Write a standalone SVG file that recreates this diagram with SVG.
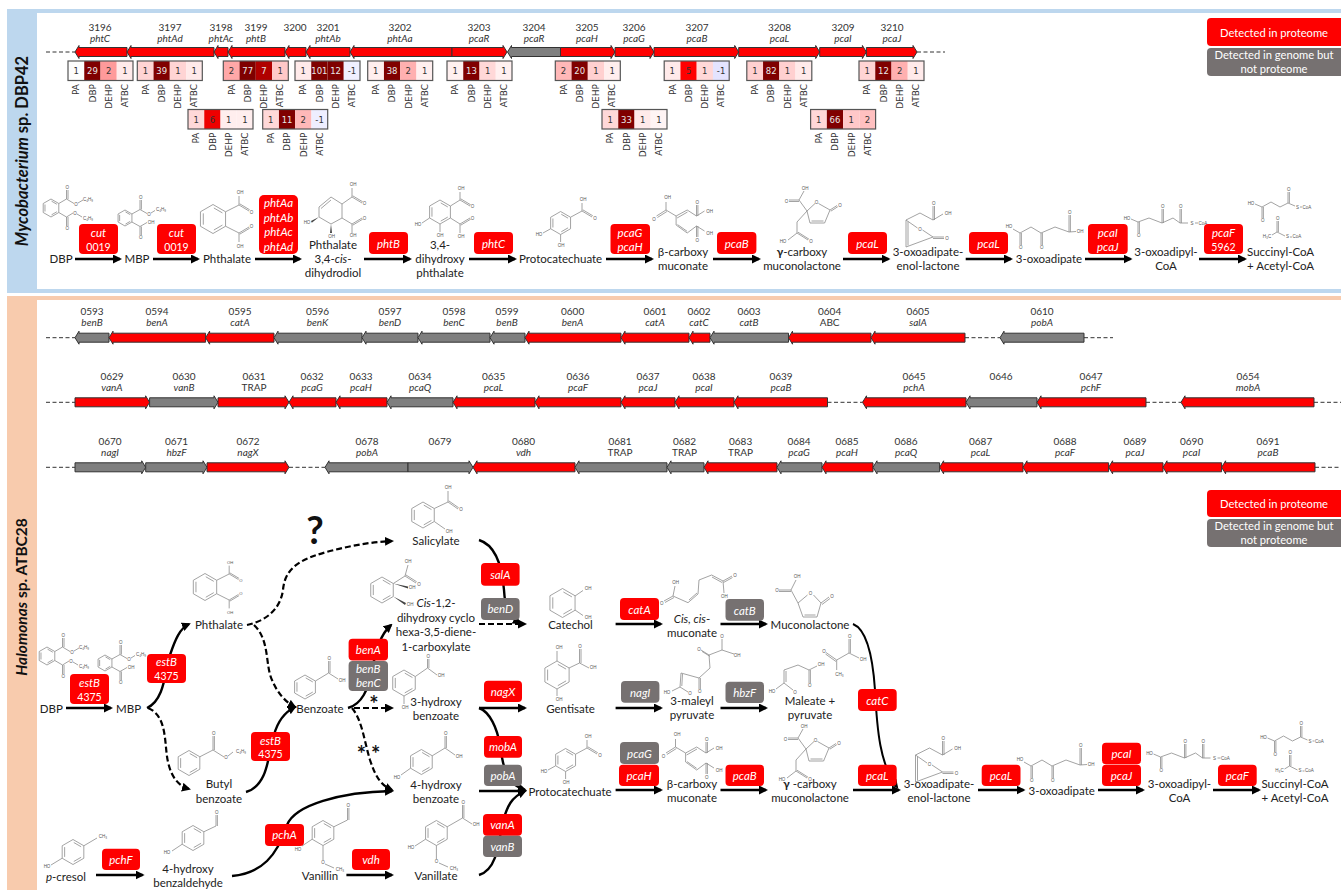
<svg xmlns="http://www.w3.org/2000/svg" width="1341" height="890" viewBox="0 0 1341 890">
<style>
text{font-family:"Lato","Open Sans","Liberation Sans",sans-serif}
.r{fill:#fe0000;stroke:#333;stroke-width:1}
.g{fill:#7f7f7f;stroke:#333;stroke-width:1}
.n{font-size:10px;fill:#333;text-anchor:middle}
.i{font-size:10px;fill:#333;text-anchor:middle;font-style:italic}
.dash{fill:none;stroke:#333;stroke-width:1;stroke-dasharray:4 2.5}
.f{fill:none;stroke:#555;stroke-width:1.2}
.c{font-family:"DejaVu Sans",sans-serif;font-size:8.5px;fill:#333;text-anchor:middle}
.w{fill:#e8e8e8}
.hl{font-family:"DejaVu Sans",sans-serif;font-size:9px;fill:#333;text-anchor:end}
.a{fill:none;stroke:#000;stroke-width:2.4;marker-end:url(#h)}
.d{fill:none;stroke:#000;stroke-width:2.2;stroke-dasharray:6 3;marker-end:url(#h)}
.e{fill:#fe0000}
.eg{fill:#767171}
.et{font-size:11.5px;fill:#fff;text-anchor:middle;font-style:italic}
.lt{font-size:11.2px;fill:#fff;text-anchor:middle}
.nu{font-size:10.5px;fill:#fff;text-anchor:middle}
.m{font-size:11.5px;fill:#222;text-anchor:middle}
.b{fill:none;stroke:#8c8c8c;stroke-width:.8;vector-effect:non-scaling-stroke}
.t{font-family:"Liberation Sans",sans-serif;font-size:4.5px;fill:#555;text-anchor:middle}
.s{font-size:16.5px;fill:#111;text-anchor:middle;font-weight:700}
</style>
<defs>
<marker id="h" viewBox="0 0 9 9" markerWidth="9" markerHeight="9" markerUnits="userSpaceOnUse" refX="7" refY="4.5" orient="auto"><path d="M0 0L9 4.5L0 9z" fill="#000"/></marker>
<g id="ring"><path class="b" d="M0-10L8.66-5V5L0 10L-8.66 5V-5ZM-6.7-3.9V3.9M.6-7.6L6.5-4.2M6.5 4.2L.6 7.6"/></g>
<g id="dbp"><use href="#ring" transform="translate(51,208) scale(.9)"/><path class="b" d="M58.8 203.5L66.5 199V190M68 199V190M66.5 199L74 203.5M78 203L83 200M58.8 212.5L66.5 217V226M68 217V226M66.5 217L73 213M77 214L82 217"/><text class="t" x="67.2" y="189">O</text><text class="t" x="76" y="206">O</text><text class="t" x="88" y="200.5">C₄H₉</text><text class="t" x="67.2" y="230">O</text><text class="t" x="75" y="214.5">O</text><text class="t" x="88" y="219.5">C₄H₉</text></g>
<g id="mbp"><use href="#ring" transform="translate(125,218) scale(.8)"/><path class="b" d="M131.9 214L140 209.5V200M141.4 209.5V200M140 209.5L147 213.5M151 213L155 210.5M131.9 222L140 226.5V235M141.4 226.5V235M140 226.5L147 222.5"/><text class="t" x="140.7" y="199">O</text><text class="t" x="149" y="215.5">O</text><text class="t" x="161" y="210.5">C₄H₉</text><text class="t" x="140.7" y="239">O</text><text class="t" x="151" y="223.5">OH</text></g>
<g id="phth"><use href="#ring" transform="scale(1.45)"/><path class="b" d="M12.6-7.25L26-14L36-8M26.7-15.2L36.7-9.2M26-14V-23M12.6 7.25L26 14L36 8M26.7 15.2L36.7 9.2M26 14V23"/><text class="t" x="38.5" y="-5.5">O</text><text class="t" x="27" y="-25">OH</text><text class="t" x="38.5" y="8.5">O</text><text class="t" x="27" y="29">OH</text></g>
<g id="pcat"><use href="#ring" transform="translate(560.6,223) scale(1.15)"/><path class="b" d="M570.6 217.2L582 211L592 217M582.8 209.8L592.8 215.8M582 211V203M550.6 228.8L543 233M560.6 234.5V242"/><text class="t" x="583" y="201">OH</text><text class="t" x="595" y="220">O</text><text class="t" x="539" y="236">HO</text><text class="t" x="561" y="247">OH</text></g>
<g id="bcm"><path class="b" d="M675.5 747V739M675.5 747L666 753M676.4 748.5L666.9 754.5M675.5 747L685.6 753L696.7 747L706 753L714 748M686.6 755L697 749M706 753V742M707.4 753V742M685.6 753V762L696.7 770L706 763L714 768M687 761.6L696.6 768.3M706 763V774M707.4 763V774"/><text class="t" x="677" y="736">OH</text><text class="t" x="663.6" y="757.5">O</text><text class="t" x="719" y="749.5">OH</text><text class="t" x="706.7" y="741">O</text><text class="t" x="719" y="771.5">OH</text><text class="t" x="706.7" y="779">O</text></g>
<g id="gcm"><path class="b" d="M807 211L815 203.5M818.5 203.5L830 210L824.6 223H810L807 211M823.5 221H811.5M830 210L837 205.5M830.8 211.2L837.8 206.7M807 211L799 200H789M799 201.5H789M799 200L804 191M807 211L797 222V233L808 240M798 232.2L809 239.2M797 233L788 240"/><text class="t" x="816.5" y="203.5">O</text><text class="t" x="840" y="206.5">O</text><text class="t" x="786.5" y="202.5">O</text><text class="t" x="805" y="189.5">OH</text><text class="t" x="811" y="243">O</text><text class="t" x="783" y="243">HO</text></g>
<g id="enol"><path class="b" d="M906 220L920 213L933 220M906 220V247M908 221.5V245.5M906 247L933 237M906 220L917.5 228M922.5 230L933 237M933 220V206M934.5 220V206M933 220L943 214M933 237H944M933 238.5H944"/><text class="t" x="920" y="231">O</text><text class="t" x="933.7" y="205">O</text><text class="t" x="948" y="215">OH</text><text class="t" x="947" y="239.5">O</text></g>
<g id="oxo"><path class="b" d="M1013 229L1020 233L1031 227L1041 233L1055 227L1069 232L1076 231.5M1020 233V245M1021.4 233V245M1041 233V245M1042.4 233V245M1069 232V215M1070.4 232V215"/><text class="t" x="1009" y="228">HO</text><text class="t" x="1020.7" y="249">O</text><text class="t" x="1041.7" y="249">O</text><text class="t" x="1069.7" y="214">O</text><text class="t" x="1080" y="233">OH</text></g>
<g id="oxocoa"><path class="b" d="M1131 219L1138 222L1149 218L1162 223L1173 218L1180 223L1188 223M1138 222V233M1139.4 222V233M1162 223V209M1163.4 223V209M1180 223V209M1181.4 223V209M1195 223H1198"/><text class="t" x="1127" y="220">HO</text><text class="t" x="1138.7" y="237">O</text><text class="t" x="1162.7" y="208">O</text><text class="t" x="1180.7" y="208">O</text><text class="t" x="1192" y="224.5">S</text><text class="t" x="1203" y="224.5">CoA</text></g>
<g id="succ"><path class="b" d="M1255 204L1262 207L1271 202L1280 207L1288 203L1295 206M1262 207V218M1263.4 207V218M1288 203V192M1289.4 203V192M1300 207H1302M1272 235L1277 232L1285 236M1277 232V221M1278.4 232V221M1290 237H1292"/><text class="t" x="1251" y="204.5">HO</text><text class="t" x="1262.7" y="222">O</text><text class="t" x="1288.7" y="191">O</text><text class="t" x="1297.5" y="208.5">S</text><text class="t" x="1307" y="208.5">CoA</text><text class="t" x="1267" y="237.5">H₃C</text><text class="t" x="1277.7" y="220">O</text><text class="t" x="1287.5" y="237.5">S</text><text class="t" x="1297" y="237.5">CoA</text></g>
</defs>

<g id="panels">
<rect x="7" y="9" width="1334" height="284" fill="#bdd7ee"/>
<rect x="37" y="13" width="1304" height="276" fill="#fff"/>
<rect x="7" y="296" width="1334" height="594" fill="#f8cbad"/>
<rect x="37" y="300" width="1304" height="590" fill="#fff"/>
<text class="s" transform="translate(28,151) rotate(-90)"><tspan font-style="italic">Mycobacterium</tspan> sp. DBP42</text>
<text class="s" style="font-size:15.5px" transform="translate(27,597) rotate(-90)"><tspan font-style="italic">Halomonas</tspan> sp. ATBC28</text>
</g>

<g id="connectors">
<path class="dash" d="M46 52H75M917 52H945M46 337.7H75M965 337.7H1000M1084 337.7H1113M46 402.3H75M827.5 402.3H862.5M1146 402.3H1181M1314 402.3H1341M46 467.3H75M289 467.3H325M1315 467.3H1341"/>
<path class="a" d="M75 259H120"/><path class="a" d="M153 259H198"/><path class="a" d="M255 259H300"/><path class="a" d="M364 259H410"/><path class="a" d="M469 259H515"/><path class="a" d="M606 259H652"/><path class="a" d="M713 259H759"/><path class="a" d="M843 259H888.5"/><path class="a" d="M965.7 259H1011"/><path class="a" d="M1085 259H1130.5"/><path class="a" d="M1199 259H1245"/>
<path class="a" d="M66 708H111"/>
<path class="a" d="M147 708C165 700 165 670 170 655C175 640 180 628 189 624"/>
<path class="d" d="M148 708C168 716 164 745 168 762C171 776 178 786 189 789"/>
<path class="a" d="M246 792C270 785 268 750 274 735C278 720 285 712 295 707"/>
<path class="d" d="M254 625C270 640 265 665 272 680C277 692 285 702 295 707"/>
<path class="d" d="M247 625C262 622 280 612 283 590C285 565 305 558 330 551C350 546 370 542 392 541"/>
<path class="a" d="M348 708C362 704 368 690 372 670C376 650 380 635 391 625"/>
<path class="d" d="M354 708H392"/>
<path class="d" d="M352 708C362 720 364 740 370 760C375 775 380 785 392 790"/>
<path class="a" d="M232 876C262 873 277 856 287 825C295 805 340 792 392 791"/>
<path class="a" d="M96 875H142.6"/><path class="a" d="M346.4 875H392"/>
<path class="a" d="M479 540C495 545 502 565 504 590C505 605 506 615 520 623"/>
<path class="d" d="M479 624H525"/>
<path class="a" d="M479 708H525"/>
<path class="a" d="M479 708C490 712 497 728 500 745C503 770 508 785 525 790"/>
<path class="a" d="M479 791H525"/>
<path class="a" d="M479 875C495 870 498 850 502 825C507 805 512 797 525 791"/>
<path class="a" d="M615.6 624H661"/><path class="a" d="M720.5 624H766"/><path class="a" d="M615.6 708H661"/><path class="a" d="M720.5 708H766"/><path class="a" d="M615.6 790H661"/><path class="a" d="M720.5 790H766"/><path class="a" d="M853 790H899"/><path class="a" d="M978 790H1023.5"/><path class="a" d="M1098 790H1143"/><path class="a" d="M1213 790H1259"/>
<path class="a" style="stroke-width:2" d="M853 624C868 630 873 660 875 690C877 730 880 765 897 787"/>
</g>

<g id="genes-mycobacterium">
<g id="g3196"><path class="r" d="M75 52l4-6.5v2h48v9h-48v2z"/><text class="n" x="100" y="30.5">3196</text><text class="i" x="100" y="41.5">phtC</text></g>
<g id="g3197"><path class="r" d="M127 52l4-6.5v2h83v9h-83v2z"/><text class="n" x="170" y="30.5">3197</text><text class="i" x="170" y="41.5">phtAd</text></g>
<g id="g3198"><path class="r" d="M214 52l4-6.5v2h10v9h-10v2z"/><text class="n" x="221" y="30.5">3198</text><text class="i" x="221" y="41.5">phtAc</text></g>
<g id="g3199"><path class="r" d="M228 52l4-6.5v2h53v9h-53v2z"/><text class="n" x="256" y="30.5">3199</text><text class="i" x="256" y="41.5">phtB</text></g>
<g id="g3200"><path class="r" d="M285 52l4-6.5v2h17v9h-17v2z"/><text class="n" x="295" y="31">3200</text></g>
<g id="g3201"><path class="r" d="M306 52l4-6.5v2h40v9h-40v2z"/><text class="n" x="328" y="30.5">3201</text><text class="i" x="328" y="41.5">phtAb</text></g>
<g id="g3202"><path class="r" d="M350 52l4-6.5v2h98v9h-98v2z"/><text class="n" x="400" y="30.5">3202</text><text class="i" x="400" y="41.5">phtAa</text></g>
<g id="g3203"><path class="r" d="M507 52l-4-6.5v2h-51v9h51v2z"/><text class="n" x="479" y="30.5">3203</text><text class="i" x="479" y="41.5">pcaR</text></g>
<g id="g3204"><path class="g" d="M507.5 52l4-6.5v2h49v9h-49v2z"/><text class="n" x="534" y="30.5">3204</text><text class="i" x="534" y="41.5">pcaR</text></g>
<g id="g3205"><path class="r" d="M615 52l-4-6.5v2h-50.5v9h50.5v2z"/><text class="n" x="587" y="30.5">3205</text><text class="i" x="587" y="41.5">pcaH</text></g>
<g id="g3206"><path class="r" d="M654 52l-4-6.5v2h-35v9h35v2z"/><text class="n" x="634" y="30.5">3206</text><text class="i" x="634" y="41.5">pcaG</text></g>
<g id="g3207"><path class="r" d="M738.7 52l-4-6.5v2h-80.7v9h80.7v2z"/><text class="n" x="697" y="30.5">3207</text><text class="i" x="697" y="41.5">pcaB</text></g>
<g id="g3208"><path class="r" d="M819.7 52l-4-6.5v2h-77v9h77v2z"/><text class="n" x="779.5" y="30.5">3208</text><text class="i" x="779.5" y="41.5">pcaL</text></g>
<g id="g3209"><path class="r" d="M866.4 52l-4-6.5v2h-42.7v9h42.7v2z"/><text class="n" x="843" y="30.5">3209</text><text class="i" x="843" y="41.5">pcaI</text></g>
<g id="g3210"><path class="r" d="M917 52l-4-6.5v2h-46.6v9h46.6v2z"/><text class="n" x="892" y="30.5">3210</text><text class="i" x="892" y="41.5">pcaJ</text></g>
</g>

<g id="heatmaps">
<g id="h3196" transform="translate(68,61)"><rect width="16.25" height="19.5" fill="#fdfdfd"/><rect x="16.25" width="16.25" height="19.5" fill="#800000"/><rect x="32.5" width="16.25" height="19.5" fill="#ff9a9a"/><rect x="48.75" width="16.25" height="19.5" fill="#ffeaea"/><rect class="f" width="65" height="19.5"/><text class="c" x="8.1" y="13">1</text><text class="c w" x="24.4" y="13">29</text><text class="c" x="40.6" y="13">2</text><text class="c" x="56.9" y="13">1</text><text class="hl" transform="translate(11.4,23) rotate(-90)">PA</text><text class="hl" transform="translate(27.6,23) rotate(-90)">DBP</text><text class="hl" transform="translate(43.9,23) rotate(-90)">DEHP</text><text class="hl" transform="translate(60.1,23) rotate(-90)">ATBC</text></g>
<g id="h3197" transform="translate(137.3,61)"><rect width="16.25" height="19.5" fill="#ffd4d4"/><rect x="16.25" width="16.25" height="19.5" fill="#800000"/><rect x="32.5" width="16.25" height="19.5" fill="#ffd4d4"/><rect x="48.75" width="16.25" height="19.5" fill="#ffeaea"/><rect class="f" width="65" height="19.5"/><text class="c" x="8.1" y="13">1</text><text class="c w" x="24.4" y="13">39</text><text class="c" x="40.6" y="13">1</text><text class="c" x="56.9" y="13">1</text><text class="hl" transform="translate(11.4,23) rotate(-90)">PA</text><text class="hl" transform="translate(27.6,23) rotate(-90)">DBP</text><text class="hl" transform="translate(43.9,23) rotate(-90)">DEHP</text><text class="hl" transform="translate(60.1,23) rotate(-90)">ATBC</text></g>
<g id="h3199" transform="translate(223.3,61)"><rect width="16.25" height="19.5" fill="#ffa8a8"/><rect x="16.25" width="16.25" height="19.5" fill="#7f0000"/><rect x="32.5" width="16.25" height="19.5" fill="#b00000"/><rect x="48.75" width="16.25" height="19.5" fill="#ffc8c8"/><rect class="f" width="65" height="19.5"/><text class="c" x="8.1" y="13">2</text><text class="c w" x="24.4" y="13">77</text><text class="c w" x="40.6" y="13">7</text><text class="c" x="56.9" y="13">1</text><text class="hl" transform="translate(11.4,23) rotate(-90)">PA</text><text class="hl" transform="translate(27.6,23) rotate(-90)">DBP</text><text class="hl" transform="translate(43.9,23) rotate(-90)">DEHP</text><text class="hl" transform="translate(60.1,23) rotate(-90)">ATBC</text></g>
<g id="h3201" transform="translate(295,61)"><rect width="16.25" height="19.5" fill="#ffeaea"/><rect x="16.25" width="16.25" height="19.5" fill="#7f0000"/><rect x="32.5" width="16.25" height="19.5" fill="#7f0000"/><rect x="48.75" width="16.25" height="19.5" fill="#f0f0ff"/><rect class="f" width="65" height="19.5"/><text class="c" x="8.1" y="13">1</text><text class="c w" x="24.4" y="13">101</text><text class="c w" x="40.6" y="13">12</text><text class="c" x="56.9" y="13">-1</text><text class="hl" transform="translate(11.4,23) rotate(-90)">PA</text><text class="hl" transform="translate(27.6,23) rotate(-90)">DBP</text><text class="hl" transform="translate(43.9,23) rotate(-90)">DEHP</text><text class="hl" transform="translate(60.1,23) rotate(-90)">ATBC</text></g>
<g id="h3202" transform="translate(367.7,61)"><rect width="16.25" height="19.5" fill="#ffeeee"/><rect x="16.25" width="16.25" height="19.5" fill="#800000"/><rect x="32.5" width="16.25" height="19.5" fill="#ffb0b0"/><rect x="48.75" width="16.25" height="19.5" fill="#ffefef"/><rect class="f" width="65" height="19.5"/><text class="c" x="8.1" y="13">1</text><text class="c w" x="24.4" y="13">38</text><text class="c" x="40.6" y="13">2</text><text class="c" x="56.9" y="13">1</text><text class="hl" transform="translate(11.4,23) rotate(-90)">PA</text><text class="hl" transform="translate(27.6,23) rotate(-90)">DBP</text><text class="hl" transform="translate(43.9,23) rotate(-90)">DEHP</text><text class="hl" transform="translate(60.1,23) rotate(-90)">ATBC</text></g>
<g id="h3203" transform="translate(447,61)"><rect width="16.25" height="19.5" fill="#fff0f0"/><rect x="16.25" width="16.25" height="19.5" fill="#800000"/><rect x="32.5" width="16.25" height="19.5" fill="#ffd8d8"/><rect x="48.75" width="16.25" height="19.5" fill="#fff0f0"/><rect class="f" width="65" height="19.5"/><text class="c" x="8.1" y="13">1</text><text class="c w" x="24.4" y="13">13</text><text class="c" x="40.6" y="13">1</text><text class="c" x="56.9" y="13">1</text><text class="hl" transform="translate(11.4,23) rotate(-90)">PA</text><text class="hl" transform="translate(27.6,23) rotate(-90)">DBP</text><text class="hl" transform="translate(43.9,23) rotate(-90)">DEHP</text><text class="hl" transform="translate(60.1,23) rotate(-90)">ATBC</text></g>
<g id="h3205" transform="translate(555.3,61)"><rect width="16.25" height="19.5" fill="#ffb8b8"/><rect x="16.25" width="16.25" height="19.5" fill="#800000"/><rect x="32.5" width="16.25" height="19.5" fill="#ffd0d0"/><rect x="48.75" width="16.25" height="19.5" fill="#ffeeee"/><rect class="f" width="65" height="19.5"/><text class="c" x="8.1" y="13">2</text><text class="c w" x="24.4" y="13">20</text><text class="c" x="40.6" y="13">1</text><text class="c" x="56.9" y="13">1</text><text class="hl" transform="translate(11.4,23) rotate(-90)">PA</text><text class="hl" transform="translate(27.6,23) rotate(-90)">DBP</text><text class="hl" transform="translate(43.9,23) rotate(-90)">DEHP</text><text class="hl" transform="translate(60.1,23) rotate(-90)">ATBC</text></g>
<g id="h3207" transform="translate(664.2,61)"><rect width="16.25" height="19.5" fill="#ffeaea"/><rect x="16.25" width="16.25" height="19.5" fill="#ff0000"/><rect x="32.5" width="16.25" height="19.5" fill="#ffd8d8"/><rect x="48.75" width="16.25" height="19.5" fill="#e4e4ff"/><rect class="f" width="65" height="19.5"/><text class="c" x="8.1" y="13">1</text><text class="c" x="24.4" y="13">5</text><text class="c" x="40.6" y="13">1</text><text class="c" x="56.9" y="13">-1</text><text class="hl" transform="translate(11.4,23) rotate(-90)">PA</text><text class="hl" transform="translate(27.6,23) rotate(-90)">DBP</text><text class="hl" transform="translate(43.9,23) rotate(-90)">DEHP</text><text class="hl" transform="translate(60.1,23) rotate(-90)">ATBC</text></g>
<g id="h3208" transform="translate(746.8,61)"><rect width="16.25" height="19.5" fill="#ffd0d0"/><rect x="16.25" width="16.25" height="19.5" fill="#7f0000"/><rect x="32.5" width="16.25" height="19.5" fill="#ffd0d0"/><rect x="48.75" width="16.25" height="19.5" fill="#ffeaea"/><rect class="f" width="65" height="19.5"/><text class="c" x="8.1" y="13">1</text><text class="c w" x="24.4" y="13">82</text><text class="c" x="40.6" y="13">1</text><text class="c" x="56.9" y="13">1</text><text class="hl" transform="translate(11.4,23) rotate(-90)">PA</text><text class="hl" transform="translate(27.6,23) rotate(-90)">DBP</text><text class="hl" transform="translate(43.9,23) rotate(-90)">DEHP</text><text class="hl" transform="translate(60.1,23) rotate(-90)">ATBC</text></g>
<g id="h3210" transform="translate(859,61)"><rect width="16.25" height="19.5" fill="#ffd4d4"/><rect x="16.25" width="16.25" height="19.5" fill="#800000"/><rect x="32.5" width="16.25" height="19.5" fill="#ffb0b0"/><rect x="48.75" width="16.25" height="19.5" fill="#ffeaea"/><rect class="f" width="65" height="19.5"/><text class="c" x="8.1" y="13">1</text><text class="c w" x="24.4" y="13">12</text><text class="c" x="40.6" y="13">2</text><text class="c" x="56.9" y="13">1</text><text class="hl" transform="translate(11.4,23) rotate(-90)">PA</text><text class="hl" transform="translate(27.6,23) rotate(-90)">DBP</text><text class="hl" transform="translate(43.9,23) rotate(-90)">DEHP</text><text class="hl" transform="translate(60.1,23) rotate(-90)">ATBC</text></g>
<g id="h3198" transform="translate(188,109.5)"><rect width="16.25" height="19.5" fill="#ffd8d8"/><rect x="16.25" width="16.25" height="19.5" fill="#ee0000"/><rect x="32.5" width="16.25" height="19.5" fill="#ffeeee"/><rect x="48.75" width="16.25" height="19.5" fill="#ffeeee"/><rect class="f" width="65" height="19.5"/><text class="c" x="8.1" y="13">1</text><text class="c" x="24.4" y="13">6</text><text class="c" x="40.6" y="13">1</text><text class="c" x="56.9" y="13">1</text><text class="hl" transform="translate(11.4,23) rotate(-90)">PA</text><text class="hl" transform="translate(27.6,23) rotate(-90)">DBP</text><text class="hl" transform="translate(43.9,23) rotate(-90)">DEHP</text><text class="hl" transform="translate(60.1,23) rotate(-90)">ATBC</text></g>
<g id="h3200" transform="translate(262.7,109.5)"><rect width="16.25" height="19.5" fill="#ffd8d8"/><rect x="16.25" width="16.25" height="19.5" fill="#800000"/><rect x="32.5" width="16.25" height="19.5" fill="#ffb8b8"/><rect x="48.75" width="16.25" height="19.5" fill="#eeeeff"/><rect class="f" width="65" height="19.5"/><text class="c" x="8.1" y="13">1</text><text class="c w" x="24.4" y="13">11</text><text class="c" x="40.6" y="13">2</text><text class="c" x="56.9" y="13">-1</text><text class="hl" transform="translate(11.4,23) rotate(-90)">PA</text><text class="hl" transform="translate(27.6,23) rotate(-90)">DBP</text><text class="hl" transform="translate(43.9,23) rotate(-90)">DEHP</text><text class="hl" transform="translate(60.1,23) rotate(-90)">ATBC</text></g>
<g id="h3206" transform="translate(602,109.5)"><rect width="16.25" height="19.5" fill="#ffd8d8"/><rect x="16.25" width="16.25" height="19.5" fill="#800000"/><rect x="32.5" width="16.25" height="19.5" fill="#ffeaea"/><rect x="48.75" width="16.25" height="19.5" fill="#fff4f4"/><rect class="f" width="65" height="19.5"/><text class="c" x="8.1" y="13">1</text><text class="c w" x="24.4" y="13">33</text><text class="c" x="40.6" y="13">1</text><text class="c" x="56.9" y="13">1</text><text class="hl" transform="translate(11.4,23) rotate(-90)">PA</text><text class="hl" transform="translate(27.6,23) rotate(-90)">DBP</text><text class="hl" transform="translate(43.9,23) rotate(-90)">DEHP</text><text class="hl" transform="translate(60.1,23) rotate(-90)">ATBC</text></g>
<g id="h3209" transform="translate(810.6,109.5)"><rect width="16.25" height="19.5" fill="#ffd8d8"/><rect x="16.25" width="16.25" height="19.5" fill="#800000"/><rect x="32.5" width="16.25" height="19.5" fill="#ffc8c8"/><rect x="48.75" width="16.25" height="19.5" fill="#ffc0c0"/><rect class="f" width="65" height="19.5"/><text class="c" x="8.1" y="13">1</text><text class="c w" x="24.4" y="13">66</text><text class="c" x="40.6" y="13">1</text><text class="c" x="56.9" y="13">2</text><text class="hl" transform="translate(11.4,23) rotate(-90)">PA</text><text class="hl" transform="translate(27.6,23) rotate(-90)">DBP</text><text class="hl" transform="translate(43.9,23) rotate(-90)">DEHP</text><text class="hl" transform="translate(60.1,23) rotate(-90)">ATBC</text></g>
</g>

<g id="genes-halomonas-a">
<g id="g0593"><path class="g" d="M75 337.7l4-6.5v2h30v9h-30v2z"/><text class="n" x="92" y="314.5">0593</text><text class="i" x="92" y="325.5">benB</text></g>
<g id="g0594"><path class="r" d="M109 337.7l4-6.5v2h92.6v9h-92.6v2z"/><text class="n" x="157" y="314.5">0594</text><text class="i" x="157" y="325.5">benA</text></g>
<g id="g0595"><path class="r" d="M205.6 337.7l4-6.5v2h64.4v9h-64.4v2z"/><text class="n" x="240" y="314.5">0595</text><text class="i" x="240" y="325.5">catA</text></g>
<g id="g0596"><path class="g" d="M274 337.7l4-6.5v2h84v9h-84v2z"/><text class="n" x="317.5" y="314.5">0596</text><text class="i" x="317.5" y="325.5">benK</text></g>
<g id="g0597"><path class="g" d="M362 337.7l4-6.5v2h52v9h-52v2z"/><text class="n" x="390" y="314.5">0597</text><text class="i" x="390" y="325.5">benD</text></g>
<g id="g0598"><path class="g" d="M418 337.7l4-6.5v2h68v9h-68v2z"/><text class="n" x="454" y="314.5">0598</text><text class="i" x="454" y="325.5">benC</text></g>
<g id="g0599"><path class="g" d="M490 337.7l4-6.5v2h31v9h-31v2z"/><text class="n" x="507" y="314.5">0599</text><text class="i" x="507" y="325.5">benB</text></g>
<g id="g0600"><path class="r" d="M525 337.7l4-6.5v2h92v9h-92v2z"/><text class="n" x="572.6" y="314.5">0600</text><text class="i" x="572.6" y="325.5">benA</text></g>
<g id="g0601"><path class="r" d="M621 337.7l4-6.5v2h64v9h-64v2z"/><text class="n" x="655" y="314.5">0601</text><text class="i" x="655" y="325.5">catA</text></g>
<g id="g0602"><path class="r" d="M689 337.7l4-6.5v2h17v9h-17v2z"/><text class="n" x="699" y="314.5">0602</text><text class="i" x="699" y="325.5">catC</text></g>
<g id="g0603"><path class="g" d="M710 337.7l4-6.5v2h74.5v9h-74.5v2z"/><text class="n" x="749" y="314.5">0603</text><text class="i" x="749" y="325.5">catB</text></g>
<g id="g0604"><path class="r" d="M788.5 337.7l4-6.5v2h78.5v9h-78.5v2z"/><text class="n" x="829.6" y="314.5">0604</text><text class="n" x="829.6" y="325.5">ABC</text></g>
<g id="g0605"><path class="r" d="M871 337.7l4-6.5v2h90v9h-90v2z"/><text class="n" x="918" y="314.5">0605</text><text class="i" x="918" y="325.5">salA</text></g>
<g id="g0610"><path class="g" d="M1000 337.7l4-6.5v2h80v9h-80v2z"/><text class="n" x="1042" y="314.5">0610</text><text class="i" x="1042" y="325.5">pobA</text></g>
</g>

<g id="genes-halomonas-b">
<g id="g0629"><path class="r" d="M149.6 402.3l-4-6.5v2h-70.6v9h70.6v2z"/><text class="n" x="112" y="379.5">0629</text><text class="i" x="112" y="390.5">vanA</text></g>
<g id="g0630"><path class="g" d="M218 402.3l-4-6.5v2h-64.4v9h64.4v2z"/><text class="n" x="184" y="379.5">0630</text><text class="i" x="184" y="390.5">vanB</text></g>
<g id="g0631"><path class="r" d="M289 402.3l-4-6.5v2h-67v9h67v2z"/><text class="n" x="254" y="379.5">0631</text><text class="n" x="254" y="390.5">TRAP</text></g>
<g id="g0632"><path class="r" d="M289 402.3l4-6.5v2h43v9h-43v2z"/><text class="n" x="312" y="379.5">0632</text><text class="i" x="312" y="390.5">pcaG</text></g>
<g id="g0633"><path class="r" d="M336 402.3l4-6.5v2h47v9h-47v2z"/><text class="n" x="361" y="379.5">0633</text><text class="i" x="361" y="390.5">pcaH</text></g>
<g id="g0634"><path class="g" d="M387 402.3l4-6.5v2h62v9h-62v2z"/><text class="n" x="420" y="379.5">0634</text><text class="i" x="420" y="390.5">pcaQ</text></g>
<g id="g0635"><path class="r" d="M453 402.3l4-6.5v2h78v9h-78v2z"/><text class="n" x="493.6" y="379.5">0635</text><text class="i" x="493.6" y="390.5">pcaL</text></g>
<g id="g0636"><path class="r" d="M535 402.3l4-6.5v2h82v9h-82v2z"/><text class="n" x="578" y="379.5">0636</text><text class="i" x="578" y="390.5">pcaF</text></g>
<g id="g0637"><path class="r" d="M621 402.3l4-6.5v2h50v9h-50v2z"/><text class="n" x="648" y="379.5">0637</text><text class="i" x="648" y="390.5">pcaJ</text></g>
<g id="g0638"><path class="r" d="M675 402.3l4-6.5v2h55v9h-55v2z"/><text class="n" x="704" y="379.5">0638</text><text class="i" x="704" y="390.5">pcaI</text></g>
<g id="g0639"><path class="r" d="M734 402.3l4-6.5v2h89.5v9h-89.5v2z"/><text class="n" x="781" y="379.5">0639</text><text class="i" x="781" y="390.5">pcaB</text></g>
<g id="g0645"><path class="r" d="M862.5 402.3l4-6.5v2h99.5v9h-99.5v2z"/><text class="n" x="914" y="379.5">0645</text><text class="i" x="914" y="390.5">pchA</text></g>
<g id="g0646"><path class="g" d="M966 402.3l4-6.5v2h67v9h-67v2z"/><text class="n" x="1001" y="380">0646</text></g>
<g id="g0647"><path class="r" d="M1037 402.3l4-6.5v2h105v9h-105v2z"/><text class="n" x="1091" y="379.5">0647</text><text class="i" x="1091" y="390.5">pchF</text></g>
<g id="g0654"><path class="r" d="M1181 402.3l4-6.5v2h129v9h-129v2z"/><text class="n" x="1248" y="379.5">0654</text><text class="i" x="1248" y="390.5">mobA</text></g>
</g>

<g id="genes-halomonas-c">
<g id="g0670"><path class="g" d="M145.7 467.3l-4-6.5v2h-66.7v9h66.7v2z"/><text class="n" x="110" y="444.5">0670</text><text class="i" x="110" y="455.5">nagI</text></g>
<g id="g0671"><path class="g" d="M207 467.3l-4-6.5v2h-57.3v9h57.3v2z"/><text class="n" x="176.5" y="444.5">0671</text><text class="i" x="176.5" y="455.5">hbzF</text></g>
<g id="g0672"><path class="r" d="M289 467.3l-4-6.5v2h-78v9h78v2z"/><text class="n" x="248" y="444.5">0672</text><text class="i" x="248" y="455.5">nagX</text></g>
<g id="g0678"><path class="g" d="M325 467.3l4-6.5v2h79v9h-79v2z"/><text class="n" x="367" y="444.5">0678</text><text class="i" x="367" y="455.5">pobA</text></g>
<g id="g0679"><path class="g" d="M473 467.3l-4-6.5v2h-61v9h61v2z"/><text class="n" x="440" y="444.5">0679</text></g>
<g id="g0680"><path class="r" d="M473 467.3l4-6.5v2h98v9h-98v2z"/><text class="n" x="523.5" y="444.5">0680</text><text class="i" x="523.5" y="455.5">vdh</text></g>
<g id="g0681"><path class="g" d="M575 467.3l4-6.5v2h88v9h-88v2z"/><text class="n" x="620" y="444.5">0681</text><text class="n" x="620" y="455.5">TRAP</text></g>
<g id="g0682"><path class="g" d="M667 467.3l4-6.5v2h33v9h-33v2z"/><text class="n" x="684.5" y="444.5">0682</text><text class="n" x="684.5" y="455.5">TRAP</text></g>
<g id="g0683"><path class="r" d="M704 467.3l4-6.5v2h69v9h-69v2z"/><text class="n" x="740.6" y="444.5">0683</text><text class="n" x="740.6" y="455.5">TRAP</text></g>
<g id="g0684"><path class="g" d="M777 467.3l4-6.5v2h41v9h-41v2z"/><text class="n" x="799" y="444.5">0684</text><text class="i" x="799" y="455.5">pcaG</text></g>
<g id="g0685"><path class="r" d="M822 467.3l4-6.5v2h47v9h-47v2z"/><text class="n" x="847" y="444.5">0685</text><text class="i" x="847" y="455.5">pcaH</text></g>
<g id="g0686"><path class="g" d="M873 467.3l4-6.5v2h62.6v9h-62.6v2z"/><text class="n" x="906" y="444.5">0686</text><text class="i" x="906" y="455.5">pcaQ</text></g>
<g id="g0687"><path class="r" d="M939.6 467.3l4-6.5v2h79.4v9h-79.4v2z"/><text class="n" x="980.6" y="444.5">0687</text><text class="i" x="980.6" y="455.5">pcaL</text></g>
<g id="g0688"><path class="r" d="M1023 467.3l4-6.5v2h81.6v9h-81.6v2z"/><text class="n" x="1065" y="444.5">0688</text><text class="i" x="1065" y="455.5">pcaF</text></g>
<g id="g0689"><path class="r" d="M1108.6 467.3l4-6.5v2h50.4v9h-50.4v2z"/><text class="n" x="1135" y="444.5">0689</text><text class="i" x="1135" y="455.5">pcaJ</text></g>
<g id="g0690"><path class="r" d="M1163 467.3l4-6.5v2h54.6v9h-54.6v2z"/><text class="n" x="1191.6" y="444.5">0690</text><text class="i" x="1191.6" y="455.5">pcaI</text></g>
<g id="g0691"><path class="r" d="M1221.6 467.3l4-6.5v2h89.4v9h-89.4v2z"/><text class="n" x="1268" y="444.5">0691</text><text class="i" x="1268" y="455.5">pcaB</text></g>
</g>

<g id="legend-top">
<rect class="e" x="1207" y="18" width="140" height="28" rx="4"/><text class="lt" x="1274" y="37">Detected in proteome</text>
<rect class="eg" x="1207" y="48" width="140" height="28" rx="4"/><text class="lt" x="1274" y="59">Detected in genome but</text><text class="lt" x="1274" y="73">not proteome</text>
</g>
<g id="legend-bottom">
<rect class="e" x="1207" y="490" width="140" height="27" rx="4"/><text class="lt" x="1274" y="508">Detected in proteome</text>
<rect class="eg" x="1207" y="519" width="140" height="28" rx="4"/><text class="lt" x="1274" y="530">Detected in genome but</text><text class="lt" x="1274" y="544">not proteome</text>
</g>

<g id="metabolites-top">
<g id="t-dbp"><use href="#dbp"/><text class="m" x="61" y="263">DBP</text></g>
<g id="t-mbp"><use href="#mbp"/><text class="m" x="137" y="263">MBP</text></g>
<g id="t-phth"><use href="#phth" transform="translate(213,219)"/><text class="m" x="227" y="263">Phthalate</text></g>
<g id="t-diol"><path class="b" d="M319 207L331 197L342 204V218L331 224L319 217ZM321 208.5L331 200M342 204L352 197L362 203M352.7 195.8L362.7 201.8M352 197V188M342 218L352 224L362 218M352.7 225.2L362.7 219.2M352 224V233"/><path d="M319 217L311 221L311.8 222.8ZM331 224L330 233H332Z" fill="#444"/><text class="t" x="353" y="186">OH</text><text class="t" x="364.5" y="204.5">O</text><text class="t" x="364.5" y="219.5">O</text><text class="t" x="353" y="237">OH</text><text class="t" x="307" y="223.5">HO</text><text class="t" x="331.5" y="238">OH</text><text class="m" x="333" y="249">Phthalate</text><text class="m" x="333" y="263">3,4-<tspan font-style="italic">cis</tspan>-</text><text class="m" x="333" y="277">dihydrodiol</text></g>
<g id="t-dhp"><use href="#ring" transform="translate(440,212) scale(1.2)"/><path class="b" d="M450.4 206L460 200L470 206M460.7 198.8L470.7 204.8M460 200V192M450.4 218L460 224L470 218M460.7 225.2L470.7 219.2M460 224V233M429.6 218L422 223M440 224V232"/><text class="t" x="461" y="190">OH</text><text class="t" x="472.5" y="207.5">O</text><text class="t" x="472.5" y="219.5">O</text><text class="t" x="461" y="237.5">OH</text><text class="t" x="418" y="225.5">HO</text><text class="t" x="440" y="237">OH</text><text class="m" x="440" y="249">3,4-</text><text class="m" x="440" y="263">dihydroxy</text><text class="m" x="440" y="277">phthalate</text></g>
<g id="t-pcat"><use href="#pcat"/><text class="m" x="560.6" y="263">Protocatechuate</text></g>
<g id="t-bcm"><use href="#bcm" transform="translate(-9.5,-537)"/><text class="m" x="683" y="256">β-carboxy</text><text class="m" x="683" y="270">muconate</text></g>
<g id="t-gcm"><use href="#gcm"/><text class="m" x="802" y="256"><tspan font-weight="700">γ</tspan>-carboxy</text><text class="m" x="802" y="270">muconolactone</text></g>
<g id="t-enol"><use href="#enol"/><text class="m" x="928" y="256">3-oxoadipate-</text><text class="m" x="928" y="270">enol-lactone</text></g>
<g id="t-oxo"><use href="#oxo"/><text class="m" x="1049" y="263">3-oxoadipate</text></g>
<g id="t-oxocoa"><use href="#oxocoa"/><text class="m" x="1166" y="256">3-oxoadipyl-</text><text class="m" x="1166" y="270">CoA</text></g>
<g id="t-succ"><use href="#succ"/><text class="m" x="1280.6" y="256">Succinyl-CoA</text><text class="m" x="1280.6" y="270">+ Acetyl-CoA</text></g>
</g>

<g id="enzymes-top">
<g id="e-cut1"><rect class="e" x="79" y="224" width="39" height="30" rx="4"/><text class="et" x="98.5" y="237">cut</text><text class="nu" x="98.5" y="250.5">0019</text></g>
<g id="e-cut2"><rect class="e" x="157" y="224" width="39" height="30" rx="4"/><text class="et" x="176.5" y="237">cut</text><text class="nu" x="176.5" y="250.5">0019</text></g>
<g id="e-phtA"><rect class="e" x="259" y="195" width="39" height="59" rx="5"/><text class="et" x="278.5" y="207">phtAa</text><text class="et" x="278.5" y="221.5">phtAb</text><text class="et" x="278.5" y="236">phtAc</text><text class="et" x="278.5" y="250.5">phtAd</text></g>
<g id="e-phtB"><rect class="e" x="369" y="232" width="39" height="22" rx="4"/><text class="et" x="388.5" y="247.5">phtB</text></g>
<g id="e-phtC"><rect class="e" x="474" y="232" width="39" height="22" rx="4"/><text class="et" x="493.5" y="247.5">phtC</text></g>
<g id="e-pcaGH"><rect class="e" x="610.5" y="224" width="39.5" height="30" rx="4"/><text class="et" x="630" y="237">pcaG</text><text class="et" x="630" y="250.5">pcaH</text></g>
<g id="e-pcaB"><rect class="e" x="717" y="232" width="39.4" height="22" rx="4"/><text class="et" x="736.7" y="247.5">pcaB</text></g>
<g id="e-pcaL1"><rect class="e" x="848" y="232" width="39" height="22" rx="4"/><text class="et" x="867.5" y="247.5">pcaL</text></g>
<g id="e-pcaL2"><rect class="e" x="969" y="232" width="39" height="22" rx="4"/><text class="et" x="988.5" y="247.5">pcaL</text></g>
<g id="e-pcaIJ"><rect class="e" x="1088" y="224" width="39.7" height="30" rx="4"/><text class="et" x="1107.8" y="237">pcaI</text><text class="et" x="1107.8" y="250.5">pcaJ</text></g>
<g id="e-pcaF5962"><rect class="e" x="1204" y="224" width="39" height="30" rx="4"/><text class="et" x="1223.5" y="237">pcaF</text><text class="nu" x="1223.5" y="250.5">5962</text></g>
</g>

<g id="metabolites-bottom">
<g id="b-dbp"><use href="#dbp" transform="translate(-4,448)"/><text class="m" x="51.4" y="713">DBP</text></g>
<g id="b-mbp"><use href="#mbp" transform="translate(-20,445)"/><text class="m" x="128.6" y="713">MBP</text></g>
<g id="b-phth"><use href="#phth" transform="translate(205,587) scale(.93)"/><text class="m" x="219" y="629">Phthalate</text></g>
<g id="b-butyl"><use href="#ring" transform="translate(189,763) scale(1.25)"/><path class="b" d="M199.8 756.8L213 750L224 757M213 750V736M214.4 750V736M228 756L233 752"/><text class="t" x="213.7" y="735">O</text><text class="t" x="226" y="759">O</text><text class="t" x="241" y="752.5">C₄H₉</text><text class="m" x="219" y="788">Butyl</text><text class="m" x="219" y="803">benzoate</text></g>
<g id="b-benzoate"><use href="#ring" transform="translate(305,687) scale(1.2)"/><path class="b" d="M315.4 681L328.6 673L338 679M328.6 673V661M330 673V661"/><text class="t" x="329.3" y="660">O</text><text class="t" x="342" y="681.5">OH</text><text class="m" x="320" y="712.5">Benzoate</text></g>
<g id="b-sal"><use href="#ring" transform="translate(423,515) scale(1.3)"/><path class="b" d="M434.3 508.5L448 502L458 509M448.7 500.8L458.7 507.8M448 502V491M434.3 521.5L445 529"/><text class="t" x="448" y="489">OH</text><text class="t" x="461" y="511">O</text><text class="t" x="449" y="532.5">OH</text><text class="m" x="436" y="545">Salicylate</text></g>
<g id="b-cis"><use href="#ring" transform="translate(382,590) scale(1.3)"/><path class="b" d="M393.3 583.5L405 576L416 583M405.7 574.8L416.7 581.8M405 576L408 565"/><path d="M393.3 583.5L408 586.5L408 588.5ZM393.3 596.5L406 603L405 605Z" fill="#444"/><text class="t" x="408" y="563">OH</text><text class="t" x="419" y="585.5">O</text><text class="t" x="412" y="589">OH</text><text class="t" x="410" y="605.5">OH</text><text class="m" x="436" y="607"><tspan font-style="italic">Cis</tspan>-1,2-</text><text class="m" x="436" y="621.5">dihydroxy cyclo</text><text class="m" x="436" y="636">hexa-3,5-diene-</text><text class="m" x="436" y="651">1-carboxylate</text></g>
<g id="b-3hb"><use href="#ring" transform="translate(404,683) scale(1.3)"/><path class="b" d="M415.3 676.5L427.5 668L437 675M427.5 668V659M428.9 668V659M404 696V704"/><text class="t" x="428.2" y="658">O</text><text class="t" x="441" y="677">OH</text><text class="t" x="405" y="709">OH</text><text class="m" x="436" y="706">3-hydroxy</text><text class="m" x="436" y="720">benzoate</text></g>
<g id="b-4hb"><use href="#ring" transform="translate(421.4,762) scale(1.25)"/><path class="b" d="M432.2 755.8L445 748L455 755M445 748V736M446.4 748V736M410.6 768.2L401 775"/><text class="t" x="445.7" y="735">O</text><text class="t" x="459" y="757.5">OH</text><text class="t" x="397" y="778.5">HO</text><text class="m" x="436" y="789">4-hydroxy</text><text class="m" x="436" y="803">benzoate</text></g>
<g id="b-cresol"><use href="#ring" transform="translate(73,852) scale(1.25)"/><path class="b" d="M83.8 845.8L97 838M62.2 858.2L51 865"/><text class="t" x="103" y="838">CH₃</text><text class="t" x="47" y="868">HO</text><text class="m" x="66" y="881"><tspan font-style="italic">p</tspan>-cresol</text></g>
<g id="b-4hba"><use href="#ring" transform="translate(193,838) scale(1.25)"/><path class="b" d="M203.8 831.8L216 826V815M217.4 826V815M182.2 844.2L172 851"/><text class="t" x="216.7" y="814">O</text><text class="t" x="167" y="854">HO</text><text class="m" x="188" y="873">4-hydroxy</text><text class="m" x="188" y="887">benzaldehyde</text></g>
<g id="b-vanillin"><use href="#ring" transform="translate(323,833) scale(1.25)"/><path class="b" d="M333.8 826.8L347.5 820V808M348.9 820V808M312.2 839.2L302 846M323 845.5V860M325 864L334 868"/><text class="t" x="348.2" y="807">O</text><text class="t" x="298" y="850.5">HO</text><text class="t" x="323" y="864">O</text><text class="t" x="340" y="871">CH₃</text><text class="m" x="320" y="880">Vanillin</text></g>
<g id="b-vanillate"><use href="#ring" transform="translate(436.4,833) scale(1.25)"/><path class="b" d="M447.2 826.8L462.5 818L472 824M462.5 818V805M463.9 818V805M425.6 839.2L415 846M436.4 845.5V859M439 863L448 867"/><text class="t" x="463.2" y="804">O</text><text class="t" x="476" y="825.5">OH</text><text class="t" x="411" y="848.5">HO</text><text class="t" x="436.4" y="863">O</text><text class="t" x="454" y="870">CH₃</text><text class="m" x="436" y="880">Vanillate</text></g>
<g id="b-catechol"><use href="#ring" transform="translate(562.5,603) scale(1.45)"/><path class="b" d="M575 596L583 590.5M575 610L583 615.5"/><text class="t" x="588" y="590">OH</text><text class="t" x="588" y="619">OH</text><text class="m" x="570.5" y="629">Catechol</text></g>
<g id="b-gentisate"><use href="#ring" transform="translate(557,675) scale(1.4)"/><path class="b" d="M557 661V651M569 668L579.5 663L589 668M579.5 663V649M581 663V649M557 689V696"/><text class="t" x="559" y="648.5">OH</text><text class="t" x="580" y="648">O</text><text class="t" x="593" y="669">OH</text><text class="t" x="559" y="701">OH</text><text class="m" x="570.5" y="713">Gentisate</text></g>
<g id="b-muconate"><path class="b" d="M664 601L673 596L688 602.7L698 594L699 580L711.7 575L723 581L724 593M673 596L675 586M665 602.5L674 597.5M689 600L697 593M712 577L722 582.5M723 581L732 576M723.5 582.5L732.5 577.5"/><text class="t" x="661.7" y="604.5">O</text><text class="t" x="675.5" y="583.5">OH</text><text class="t" x="724.4" y="598">OH</text><text class="t" x="735" y="576.5">O</text><text class="m" x="692" y="622.5"><tspan font-style="italic">Cis, cis</tspan>-</text><text class="m" x="692" y="636.5">muconate</text></g>
<g id="b-mucolac"><path class="b" d="M798 603L807.5 595M813.5 595L821 603L817 617H803L798 603M815.5 615H804.5M821 603L829 597M822 604.5L830 598.5M798 603L791 590H779M791 591.5H779M791 590L796 580"/><text class="t" x="810.6" y="595">O</text><text class="t" x="832" y="598">O</text><text class="t" x="777" y="592">O</text><text class="t" x="797" y="578">OH</text><text class="m" x="810" y="629">Muconolactone</text></g>
<g id="b-maleyl"><path class="b" d="M722 639V650L734 654M722 650L709 655M709 655L701 650M710 656.4L702 651.4M709 655L710 668L699 678L699 689M700.4 678V689M699 678L681 673L680 687L688 692M682.5 674L681.8 686M680 687L672 691"/><text class="t" x="722" y="637.5">O</text><text class="t" x="737" y="656.5">OH</text><text class="t" x="699" y="650.5">O</text><text class="t" x="699.7" y="693">O</text><text class="t" x="690" y="695">O</text><text class="t" x="667" y="694">HO</text><text class="m" x="692" y="705">3-maleyl</text><text class="m" x="692" y="719">pyruvate</text></g>
<g id="b-maleate"><path class="b" d="M798 665L809 670L817 666M798 665L784 670V683L793 690M786 671V682M809 670V683M810.4 670V683M784 683L776 689"/><text class="t" x="821" y="666">OH</text><text class="t" x="809.7" y="687">O</text><text class="t" x="795" y="693.5">O</text><text class="t" x="772" y="693">HO</text><path class="b" d="M826 652.5L836.7 660L849 653V639M850.4 653V639M849 653L859 658M825.5 654L836 661.5M836.7 660V670"/><text class="t" x="824" y="652.5">O</text><text class="t" x="849.7" y="638">O</text><text class="t" x="863" y="660.5">OH</text><text class="t" x="839.4" y="675.5">CH₃</text><text class="m" x="810" y="705">Maleate +</text><text class="m" x="810" y="719">pyruvate</text></g>
<g id="b-pcat"><use href="#pcat" transform="translate(5,537)"/><text class="m" x="570" y="796">Protocatechuate</text></g>
<g id="b-bcm"><use href="#bcm"/><text class="m" x="692" y="788">β-carboxy</text><text class="m" x="692" y="802">muconate</text></g>
<g id="b-gcm"><use href="#gcm" transform="translate(-1,538)"/><text class="m" x="810" y="788"><tspan font-weight="700">γ</tspan> -carboxy</text><text class="m" x="810" y="802">muconolactone</text></g>
<g id="b-enol"><use href="#enol" transform="translate(9.5,535)"/><text class="m" x="939" y="788">3-oxoadipate-</text><text class="m" x="939" y="802">enol-lactone</text></g>
<g id="b-oxo"><use href="#oxo" transform="translate(11,533)"/><text class="m" x="1061.7" y="795">3-oxoadipate</text></g>
<g id="b-oxocoa"><use href="#oxocoa" transform="translate(22.5,535)"/><text class="m" x="1179.5" y="788">3-oxoadipyl-</text><text class="m" x="1179.5" y="802">CoA</text></g>
<g id="b-succ"><use href="#succ" transform="translate(12.5,534)"/><text class="m" x="1295" y="788">Succinyl-CoA</text><text class="m" x="1295" y="802">+ Acetyl-CoA</text></g>
</g>

<g id="enzymes-bottom">
<g id="n-estB1"><rect class="e" x="70" y="674" width="39" height="30" rx="4"/><text class="et" x="89.5" y="686.5">estB</text><text class="nu" x="89.5" y="700.5">4375</text></g>
<g id="n-estB2"><rect class="e" x="147" y="654" width="39" height="29" rx="4"/><text class="et" x="166.5" y="666">estB</text><text class="nu" x="166.5" y="680">4375</text></g>
<g id="n-estB3"><rect class="e" x="251" y="732" width="39" height="29" rx="4"/><text class="et" x="270.5" y="744.5">estB</text><text class="nu" x="270.5" y="758">4375</text></g>
<g id="n-benA"><rect class="e" x="348.6" y="638.7" width="39.4" height="21.8" rx="4"/><text class="et" x="368.3" y="654">benA</text></g>
<g id="n-benBC"><rect class="eg" x="348.6" y="661" width="39.4" height="30" rx="4"/><text class="et" x="368.3" y="673">benB</text><text class="et" x="368.3" y="687">benC</text></g>
<g id="n-pchA"><rect class="e" x="265" y="824" width="39" height="22" rx="4"/><text class="et" x="284.5" y="839">pchA</text></g>
<g id="n-pchF"><rect class="e" x="102" y="848.7" width="38" height="21.3" rx="4"/><text class="et" x="121" y="863.5">pchF</text></g>
<g id="n-vdh"><rect class="e" x="352" y="849" width="38" height="21" rx="4"/><text class="et" x="371" y="863.5">vdh</text></g>
<g id="n-salA"><rect class="e" x="481" y="563" width="38.6" height="22.7" rx="4"/><text class="et" x="500.3" y="578.5">salA</text></g>
<g id="n-benD"><rect class="eg" x="481" y="598" width="38.6" height="22" rx="4"/><text class="et" x="500.3" y="613">benD</text></g>
<g id="n-nagX"><rect class="e" x="484" y="680.7" width="38" height="21.3" rx="4"/><text class="et" x="503" y="696">nagX</text></g>
<g id="n-mobA"><rect class="e" x="484" y="736" width="38" height="21.7" rx="4"/><text class="et" x="503" y="751">mobA</text></g>
<g id="n-pobA"><rect class="eg" x="484" y="764.7" width="38" height="21.3" rx="4"/><text class="et" x="503" y="780">pobA</text></g>
<g id="n-vanA"><rect class="e" x="483" y="814" width="39" height="21.7" rx="4"/><text class="et" x="502.5" y="829">vanA</text></g>
<g id="n-vanB"><rect class="eg" x="483" y="835.7" width="39" height="21.3" rx="4"/><text class="et" x="502.5" y="851">vanB</text></g>
<g id="n-catA"><rect class="e" x="620" y="598" width="39" height="22" rx="4"/><text class="et" x="639.5" y="614">catA</text></g>
<g id="n-catB"><rect class="eg" x="725.5" y="599" width="38.5" height="21.7" rx="4"/><text class="et" x="744.7" y="614.5">catB</text></g>
<g id="n-catC"><rect class="e" x="858" y="689" width="38.7" height="22" rx="4"/><text class="et" x="877.3" y="705">catC</text></g>
<g id="n-nagI"><rect class="eg" x="621" y="681" width="38.4" height="21.7" rx="4"/><text class="et" x="640.2" y="696.5">nagI</text></g>
<g id="n-hbzF"><rect class="eg" x="725.5" y="681.7" width="38.5" height="21.3" rx="4"/><text class="et" x="744.7" y="697">hbzF</text></g>
<g id="n-pcaG"><rect class="eg" x="620" y="742" width="39" height="22" rx="4"/><text class="et" x="639.5" y="758">pcaG</text></g>
<g id="n-pcaH"><rect class="e" x="619" y="764.7" width="40" height="21.3" rx="4"/><text class="et" x="639" y="780">pcaH</text></g>
<g id="n-pcaB"><rect class="e" x="725.5" y="764.7" width="38.5" height="21.3" rx="4"/><text class="et" x="744.7" y="780">pcaB</text></g>
<g id="n-pcaL1"><rect class="e" x="858" y="764.7" width="38.7" height="21.3" rx="4"/><text class="et" x="877.3" y="780">pcaL</text></g>
<g id="n-pcaL2"><rect class="e" x="981.7" y="764.7" width="38.8" height="21.3" rx="4"/><text class="et" x="1001" y="780">pcaL</text></g>
<g id="n-pcaI"><rect class="e" x="1102" y="742.7" width="39" height="21.6" rx="4"/><text class="et" x="1121.5" y="758">pcaI</text></g>
<g id="n-pcaJ"><rect class="e" x="1102" y="764.7" width="39" height="21.3" rx="4"/><text class="et" x="1121.5" y="780">pcaJ</text></g>
<g id="n-pcaF"><rect class="e" x="1218" y="764.7" width="38.7" height="21.3" rx="4"/><text class="et" x="1237.3" y="780">pcaF</text></g>
</g>

<g id="marks">
<text x="315" y="544" font-size="38" font-weight="700" text-anchor="middle" fill="#111">?</text>
<text x="374" y="712" font-size="22" font-weight="700" text-anchor="middle" fill="#111">*</text>
<text x="371" y="762" font-size="22" font-weight="700" text-anchor="middle" letter-spacing="5" fill="#111">**</text>
</g>
</svg>
